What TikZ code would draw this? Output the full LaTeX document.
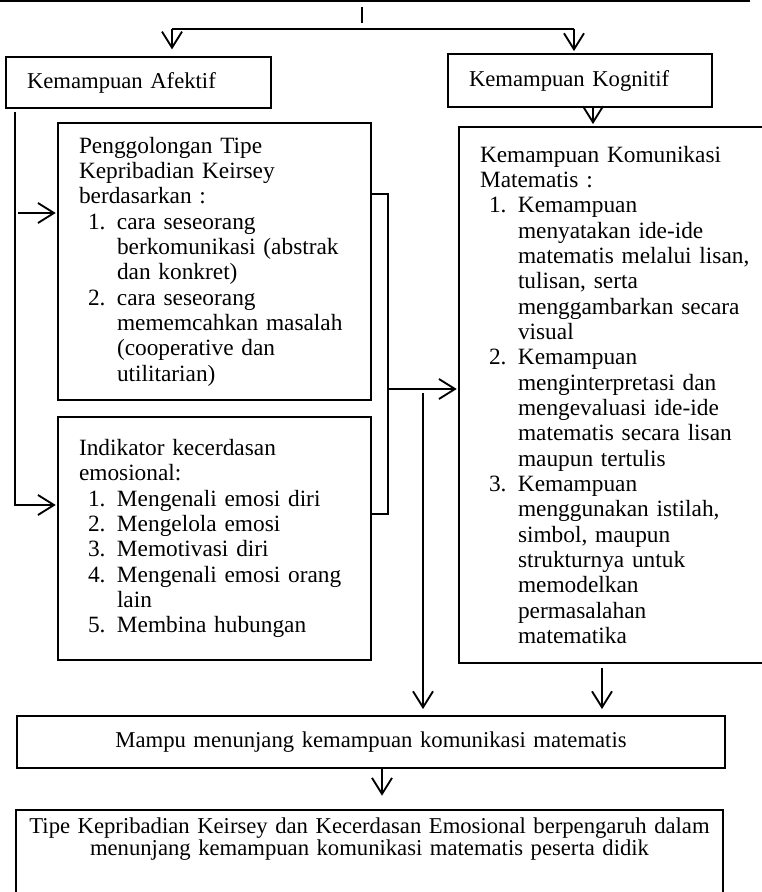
\documentclass[tikz,border=0pt]{standalone}
\usepackage{fontspec}
\setmainfont{Liberation Serif}
\usetikzlibrary{arrows.meta}
\tikzset{
    kotak/.style={draw=black, line width=1.4pt, inner xsep=15.75pt, inner ysep=0pt, align=left},
    judul/.style={font=\fontsize{17}{16}\selectfont},
    panah/.style={-{Straight Barb[length=12pt,width=15pt]}, line width=1.4pt},
    garis/.style={line width=1.4pt}}
\newcommand{\butir}[1]{\hspace*{6.75pt}\makebox[21.75pt][l]{#1}}
\newcommand{\lanjut}{\hspace*{28.5pt}}

\begin{document}
\begin{tikzpicture}[x=0.75pt, y=-0.75pt, font=\fontsize{17.5}{19}\selectfont]
    \useasboundingbox (0,0) rectangle (761,892);

    \node[kotak, judul, text width=167.25pt, minimum height=38.25pt] (afektif) at (138.5,82.5) {Kemampuan Afektif};
    \node[kotak, judul, text width=166.5pt, minimum height=39.75pt] (kognitif) at (580,80.5) {Kemampuan Kognitif};

    \node[kotak, text width=203.25pt, minimum height=207.75pt] (penggolongan) at (214.5,261.5) {Penggolongan Tipe\\
        Kepribadian Keirsey\\
        berdasarkan :\\
        \butir{1.}cara seseorang\\
        \lanjut berkomunikasi (abstrak\\
        \lanjut dan konkret)\\
        \butir{2.}cara seseorang\\
        \lanjut mememcahkan masalah\\
        \lanjut (cooperative dan\\
        \lanjut utilitarian)};
    \node[kotak, text width=203.25pt, minimum height=182.25pt] (indikator) at (214.5,538.5) {Indikator kecerdasan\\
        emosional:\\
        \butir{1.}Mengenali emosi diri\\
        \butir{2.}Mengelola emosi\\
        \butir{3.}Memotivasi diri\\
        \butir{4.}Mengenali emosi orang\\
        \lanjut lain\\
        \butir{5.}Membina hubungan};

    \node[kotak, text width=216.75pt, minimum height=402pt] (komunikasi) at (624.5,395) {Kemampuan Komunikasi\\
        Matematis :\\
        \butir{1.}Kemampuan\\
        \lanjut menyatakan ide-ide\\
        \lanjut matematis melalui lisan,\\
        \lanjut tulisan, serta\\
        \lanjut menggambarkan secara\\
        \lanjut visual\\
        \butir{2.}Kemampuan\\
        \lanjut menginterpretasi dan\\
        \lanjut mengevaluasi ide-ide\\
        \lanjut matematis secara lisan\\
        \lanjut maupun tertulis\\
        \butir{3.}Kemampuan\\
        \lanjut menggunakan istilah,\\
        \lanjut simbol, maupun\\
        \lanjut strukturnya untuk\\
        \lanjut memodelkan\\
        \lanjut permasalahan\\
        \lanjut matematika};

    \node[kotak, judul, align=center, inner xsep=2pt, text width=527pt, minimum height=39pt] (mampu) at (371,742) {Mampu menunjang kemampuan komunikasi matematis};
    \node[kotak, judul, align=center, inner xsep=2pt, text width=526pt, inner ysep=6pt, text depth=60pt, anchor=north] (akhir) at (369.5,809) {Tipe Kepribadian Keirsey dan Kecerdasan Emosional berpengaruh dalam\\
        menunjang kemampuan komunikasi matematis peserta didik};

    \coordinate (atasKiri) at (0,1);
    \coordinate (atasKanan) at (750,1);
    \coordinate (puncak) at (362,7);
    \coordinate (puncakBawah) at (362,23);
    \coordinate (cabangKiri) at (172,29);
    \coordinate (cabangKanan) at (574,29);
    \coordinate (tulang) at (15,112);
    \coordinate (tulangAtas) at (18,213);
    \coordinate (kurung) at (388,389);
    \coordinate (turun) at (423,393);

    \draw[garis] (atasKiri) -- (atasKanan);
    \draw[garis] (puncak) -- (puncakBawah);
    \draw[garis] (cabangKiri) -- (cabangKanan);
    \draw[panah, shorten >=5pt] (cabangKiri) -- (cabangKiri |- afektif.north);
    \draw[panah, shorten >=1.5pt] (cabangKanan) -- (cabangKanan |- kognitif.north);

    \draw[panah, shorten >=1pt] (tulang) |- (indikator.west |- 0,505);
    \draw[panah, shorten >=1pt] (tulangAtas) -- (penggolongan.west |- tulangAtas);

    \draw[garis] (penggolongan.east |- 0,194) -- (388,194) -- (388,514) -- (indikator.east |- 0,514);
    \draw[panah, shorten >=1pt] (kurung) -- (komunikasi.west |- kurung);
    \draw[panah, shorten >=4.5pt] (turun) -- (turun |- mampu.north);

    \draw[panah, shorten >=1.5pt] (kognitif.south -| 593,0) -- (komunikasi.north -| 593,0);
    \draw[panah, shorten <=3pt, shorten >=4.5pt] (komunikasi.south -| 602,0) -- (mampu.north -| 602,0);
    \draw[panah, shorten >=10pt] (mampu.south -| 382,0) -- (akhir.north -| 382,0);

\end{tikzpicture}
\end{document}
